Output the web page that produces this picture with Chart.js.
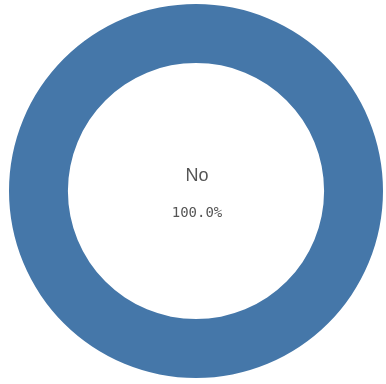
<!DOCTYPE html>
<html lang="en">
<head>
    <meta charset="UTF-8">
    <title>Doughnut</title>
    <script src="https://cdn.jsdelivr.net/npm/chart.js@4/dist/chart.umd.min.js"></script>
    <style>
        html, body { margin: 0; padding: 0; background: #fff; }
        #wrap { width: 386px; height: 384px; }
    </style>
</head>
<body>
    <div id="wrap"><canvas id="donutChart"></canvas></div>

    <script>
        const labels = ['No'];
        const values = [100];
        const colors = ['#4577a9'];

        const total = values.reduce((a, b) => a + b, 0);

        // label + share written in the hole
        const centerText = {
            id: 'centerText',
            afterDraw(chart) {
                const ctx = chart.ctx;
                const arc = chart.getDatasetMeta(0).data[0];
                const x = arc.x, y = arc.y;
                ctx.save();
                ctx.textAlign = 'center';
                ctx.textBaseline = 'middle';
                ctx.fillStyle = '#555';
                ctx.font = '18px "Liberation Sans", Arial, sans-serif';
                ctx.fillText(labels[0], x + 1, y - 15);
                ctx.font = '14px "DejaVu Sans Mono", monospace';
                ctx.fillText((values[0] / total * 100).toFixed(1) + '%', x + 1, y + 22);
                ctx.restore();
            }
        };

        new Chart(document.getElementById('donutChart'), {
            type: 'doughnut',
            data: {
                labels: labels,
                datasets: [{
                    data: values,
                    backgroundColor: colors,
                    borderWidth: 0
                }]
            },
            options: {
                responsive: true,
                maintainAspectRatio: false,
                animation: false,
                cutout: '68.5%',
                layout: { padding: { left: 9, right: 3, top: 3, bottom: 5 } },
                plugins: {
                    legend: { display: false },
                    tooltip: { enabled: false }
                }
            },
            plugins: [centerText]
        });
    </script>
</body>
</html>
